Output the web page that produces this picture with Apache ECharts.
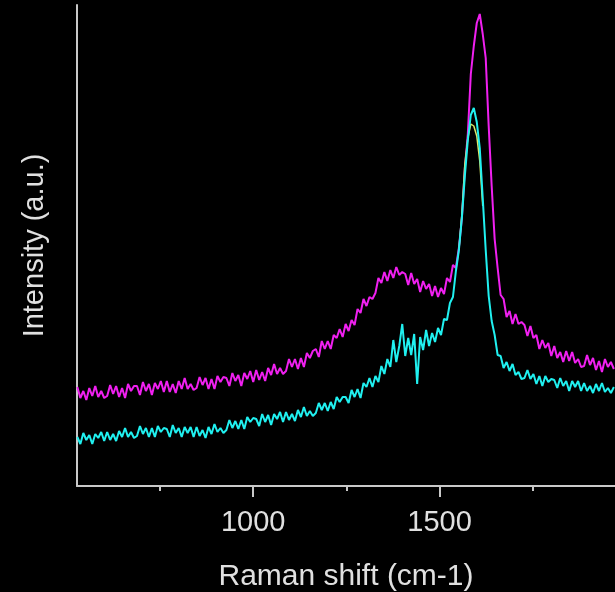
<!DOCTYPE html>
<html>
<head>
<meta charset="utf-8">
<script src="https://cdn.jsdelivr.net/npm/echarts@6/dist/echarts.min.js"></script>
<style>
  * { margin: 0; padding: 0; }
  body { background: #000; }
  #hello { width: 615px; height: 592px; }
</style>
</head>
<body>
<div id="hello"></div>
<script>
// raman shift grid: 528 .. 1968 step 8 (cm-1)
var shiftStart = 528
var shiftStep = 8

// magenta spectrum (a.u.)
var magenta = [
  99, 88, 95, 86, 98, 90, 100, 89, 95, 88,
  90, 101, 92, 100, 89, 98, 88, 102, 95, 100,
  100, 91, 104, 95, 102, 91, 103, 97, 105, 94,
  105, 94, 102, 93, 105, 97, 108, 97, 102, 96,
  98, 109, 101, 108, 97, 107, 97, 110, 104, 109,
  108, 100, 113, 105, 111, 100, 113, 107, 115, 104,
  116, 106, 114, 105, 118, 111, 122, 112, 118, 112,
  115, 127, 119, 127, 117, 128, 119, 133, 128, 135,
  137, 129, 145, 137, 145, 137, 151, 148, 157, 149,
  162, 155, 166, 161, 177, 173, 187, 180, 189, 187,
  193, 208, 203, 214, 205, 216, 208, 219, 211, 214,
  212, 201, 213, 202, 207, 194, 205, 197, 202, 190,
  200, 189, 198, 192, 208, 204, 221, 218, 238, 268,
  318, 352, 412, 440, 463, 472, 452, 428, 360, 300,
  247, 218, 191, 187, 169, 175, 162, 172, 162, 164,
  161, 150, 160, 148, 151, 137, 146, 138, 143, 130,
  140, 128, 134, 124, 135, 125, 134, 123, 127, 119,
  120, 131, 121, 128, 116, 125, 114, 127, 119, 124, 117
]

// cyan spectrum
var cyan = [
  49, 42, 53, 46, 51, 42, 52, 48, 54, 45,
  54, 46, 52, 45, 55, 49, 58, 49, 54, 48,
  50, 60, 52, 58, 49, 58, 49, 60, 54, 58,
  57, 49, 61, 53, 58, 49, 59, 53, 59, 49,
  59, 50, 56, 48, 59, 52, 62, 54, 58, 53,
  56, 66, 58, 65, 57, 66, 57, 69, 64, 68,
  67, 60, 72, 64, 71, 61, 72, 67, 74, 64,
  74, 66, 72, 65, 76, 69, 79, 70, 75, 70,
  73, 83, 76, 83, 75, 84, 77, 89, 84, 89,
  89, 83, 96, 89, 97, 88, 103, 99, 108, 99,
  110, 104, 120, 112, 127, 119, 146, 124, 140, 162,
  130, 148, 131, 152, 102, 149, 136, 156, 140, 153,
  144, 158, 151, 167, 166, 183, 189, 215, 236, 268,
  310, 346, 371, 378, 364, 338, 288, 236, 190, 165,
  151, 131, 130, 118, 124, 115, 122, 111, 114, 107,
  108, 116, 107, 112, 102, 110, 100, 110, 104, 107,
  106, 98, 108, 100, 105, 95, 105, 99, 105, 95,
  103, 95, 100, 93, 102, 95, 103, 94, 98, 93, 99
]

// third trace, only visible around the G peak
var yellowShift = [1552, 1560, 1568, 1576, 1584, 1592, 1600, 1608, 1616]
var yellow = [236, 272, 322, 348, 362, 360, 350, 325, 280]

var majorTicks = [1000, 1500]
var minorTicks = [750, 1250, 1750]

function pairs(start, step, vals) {
  var out = []
  for (var i = 0; i < vals.length; i++) out.push([start + i * step, vals[i]])
  return out
}

var font = 'Liberation Sans, Arial, sans-serif'
var txtColor = '#e0e0e0'
var axLine = { show: true, lineStyle: { color: '#c8c8c8', width: 2 } }

var charts = echarts.init(document.getElementById('hello'))
charts.setOption({
  backgroundColor: '#000',
  animation: false,
  grid: { left: 77, right: 0, top: 5, bottom: 106, outerBoundsMode: 'none', containLabel: false },
  xAxis: [
    {
      type: 'value', min: 527, max: 1971,
      axisLine: axLine,
      splitLine: { show: false },
      axisTick: { show: true, length: 11, customValues: majorTicks, lineStyle: { color: '#c8c8c8', width: 2 } },
      axisLabel: {
        show: true, margin: 22, customValues: majorTicks,
        color: txtColor, fontFamily: font, fontSize: 29,
        formatter: function (v) { return String(v) }
      },
      name: 'Raman shift (cm-1)',
      nameLocation: 'middle',
      nameGap: 76,
      nameTextStyle: { color: txtColor, fontFamily: font, fontSize: 30 }
    },
    {
      type: 'value', min: 527, max: 1971, position: 'bottom',
      axisLine: { show: false },
      splitLine: { show: false },
      axisTick: { show: true, length: 5, customValues: minorTicks, lineStyle: { color: '#c8c8c8', width: 2 } },
      axisLabel: { show: false }
    }
  ],
  yAxis: {
    type: 'value', min: 0, max: 481,
    axisLine: axLine,
    axisTick: { show: false },
    axisLabel: { show: false },
    splitLine: { show: false },
    name: 'Intensity (a.u.)',
    nameLocation: 'middle',
    nameGap: 28,
    nameTextStyle: { color: txtColor, fontFamily: font, fontSize: 29 }
  },
  series: [
    {
      type: 'line', symbol: 'none', silent: true,
      data: pairs(shiftStart, shiftStep, magenta),
      lineStyle: { color: '#f020f0', width: 2 }
    },
    {
      type: 'line', symbol: 'none', silent: true,
      data: yellowShift.map(function (s, i) { return [s, yellow[i]] }),
      lineStyle: { color: '#d8e868', width: 1.5 }
    },
    {
      type: 'line', symbol: 'none', silent: true,
      data: pairs(shiftStart, shiftStep, cyan),
      lineStyle: { color: '#20f0f0', width: 2 }
    }
  ]
})
</script>
</body>
</html>
